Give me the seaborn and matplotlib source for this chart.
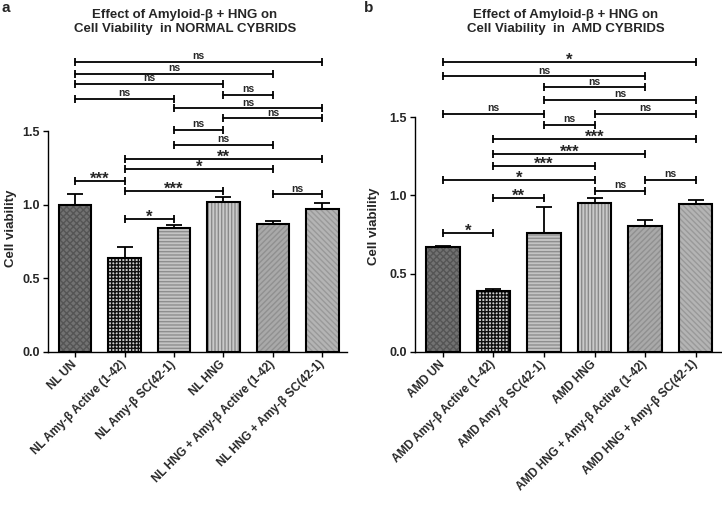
import matplotlib
matplotlib.use("Agg")
import matplotlib.pyplot as plt
from matplotlib.patches import Rectangle
import seaborn as sns
import pandas as pd
import numpy as np

# ---------------- data ----------------
categories_a = ["NL UN", "NL Amy-β Active (1-42)", "NL Amy-β SC(42-1)", "NL HNG",
                "NL HNG + Amy-β Active (1-42)", "NL HNG + Amy-β SC(42-1)"]
means_a = [1.00, 0.64, 0.84, 1.02, 0.87, 0.97]
errs_a = [0.07, 0.07, 0.02, 0.03, 0.02, 0.04]

categories_b = ["AMD UN", "AMD Amy-β Active (1-42)", "AMD Amy-β SC(42-1)", "AMD HNG",
                "AMD HNG + Amy-β Active (1-42)", "AMD HNG + Amy-β SC(42-1)"]
means_b = [0.67, 0.39, 0.76, 0.95, 0.805, 0.945]
errs_b = [0.006, 0.015, 0.165, 0.03, 0.04, 0.025]

# significance brackets: (from, to, height, label)
brackets_a = [(0, 5, 1.97, "ns"), (0, 4, 1.89, "ns"), (0, 3, 1.82, "ns"),
              (0, 2, 1.72, "ns"), (3, 4, 1.745, "ns"), (2, 5, 1.655, "ns"),
              (3, 5, 1.585, "ns"), (2, 3, 1.51, "ns"), (2, 4, 1.405, "ns"),
              (1, 5, 1.31, "**"), (1, 4, 1.24, "*"), (0, 1, 1.16, "***"),
              (1, 3, 1.095, "***"), (4, 5, 1.07, "ns"), (1, 2, 0.90, "*")]
brackets_b = [(0, 5, 1.85, "*"), (0, 4, 1.76, "ns"), (2, 4, 1.69, "ns"),
              (2, 5, 1.61, "ns"), (0, 2, 1.52, "ns"), (3, 5, 1.52, "ns"),
              (2, 3, 1.45, "ns"), (1, 5, 1.36, "***"), (1, 4, 1.265, "***"),
              (1, 3, 1.19, "***"), (0, 3, 1.095, "*"), (4, 5, 1.10, "ns"),
              (3, 4, 1.03, "ns"), (1, 2, 0.985, "**"), (0, 1, 0.76, "*")]

titles = ["Effect of Amyloid-β + HNG on\nCell Viability  in NORMAL CYBRIDS",
          "Effect of Amyloid-β + HNG on\nCell Viability  in  AMD CYBRIDS"]
yticks = [0.0, 0.5, 1.0, 1.5]

# ---------------- style ----------------
sns.set_style("ticks")
plt.rcParams["font.family"] = ["Liberation Sans", "DejaVu Sans"]
plt.rcParams["font.weight"] = "bold"
plt.rcParams["hatch.linewidth"] = 1.0

face_colors = ["#727272", "#cfcfcf", "#c4c4c4", "#cacaca", "#a9a9a9", "#b4b4b4"]
hatch_colors = ["#555555", "#111111", "#8e8e8e", "#8a8a8a", "#909090", "#999999"]
hatches = ["xxxxx", "+++++", "-----", "|||||", "//////", "\\\\\\\\\\\\"]

fig = plt.figure(figsize=(7.22, 5.05), dpi=100)
ax_a = fig.add_axes([48 / 722, 1 - 352 / 505, 299 / 722, 221 / 505])
ax_b = fig.add_axes([415 / 722, 1 - 352 / 505, 306 / 722, 235 / 505])


def draw_panel(ax, cats, means, errs, brackets, title, tx, panel_label, label_xy):
    df = pd.DataFrame({"cat": cats, "mean": means})
    sns.barplot(data=df, x="cat", y="mean", hue="cat", palette=face_colors,
                legend=False, width=0.66, ax=ax, linewidth=0, errorbar=None,
                order=cats, hue_order=cats)
    for k, p in enumerate(ax.patches[:len(cats)]):
        p.set_hatch(hatches[k])
        p.set_edgecolor(hatch_colors[k])
        p.set_linewidth(0)
        ax.add_patch(Rectangle(p.get_xy(), p.get_width(), p.get_height(),
                               fill=False, edgecolor="black", linewidth=1.5, zorder=3))
    x = np.arange(len(cats))
    ax.errorbar(x, means, yerr=[np.zeros(len(errs)), errs], fmt="none",
                ecolor="black", elinewidth=1.3, capsize=6, capthick=1.3, zorder=2)

    ax.set_xlim(-0.55, 5.5)
    ax.set_ylim(0, 1.5)
    ax.set_yticks(yticks)
    ax.set_yticklabels([f"{v:.1f}" for v in yticks], fontsize=9, fontweight="bold")
    ax.set_xticks(x)
    ax.set_xticklabels(cats, rotation=45, ha="right", va="center",
                       rotation_mode="anchor", fontsize=8.5, fontweight="bold")
    ax.set_xlabel("")
    ax.set_ylabel("Cell viability", fontsize=9.5, fontweight="bold")
    ax.tick_params(axis="both", length=3.5, width=1.0, color="black", pad=2.5)
    ax.tick_params(axis="x", pad=4)
    for s in ("left", "bottom"):
        ax.spines[s].set_linewidth(1.0)
        ax.spines[s].set_color("black")
    sns.despine(ax=ax)

    for (i, j, y, lab) in brackets:
        ax.plot([i, j], [y, y], color="black", lw=1.3, clip_on=False, zorder=4)
        ax.plot([i, j], [y, y], ls="none", marker="|", ms=6, mew=1.3,
                color="black", clip_on=False, zorder=4)
        if lab == "ns":
            ax.annotate(lab, xy=((i + j) / 2, y), xytext=(0, 1.8),
                        textcoords="offset points", ha="center", va="baseline",
                        fontsize=7.5, fontweight="bold", annotation_clip=False)
        else:
            ax.annotate(lab, xy=((i + j) / 2, y), xytext=(0, -2.0),
                        textcoords="offset points", ha="center", va="baseline",
                        fontsize=12, fontweight="bold", annotation_clip=False)

    fig.text(tx / 722, 1 - 22 / 505, title, ha="center", va="center",
             fontsize=9.5, fontweight="bold", linespacing=1.15)
    fig.text(label_xy[0] / 722, 1 - label_xy[1] / 505, panel_label,
             ha="left", va="center", fontsize=11, fontweight="bold")


draw_panel(ax_a, categories_a, means_a, errs_a, brackets_a, titles[0], 185, "a", (2, 8))
draw_panel(ax_b, categories_b, means_b, errs_b, brackets_b, titles[1], 566, "b", (364, 8))

ax_a.yaxis.set_label_coords((17 - 48) / 299, (352 - 228) / 221)
ax_b.yaxis.set_label_coords((380 - 415) / 306, (352 - 226) / 235)

fig.savefig("out.png", dpi=100)
